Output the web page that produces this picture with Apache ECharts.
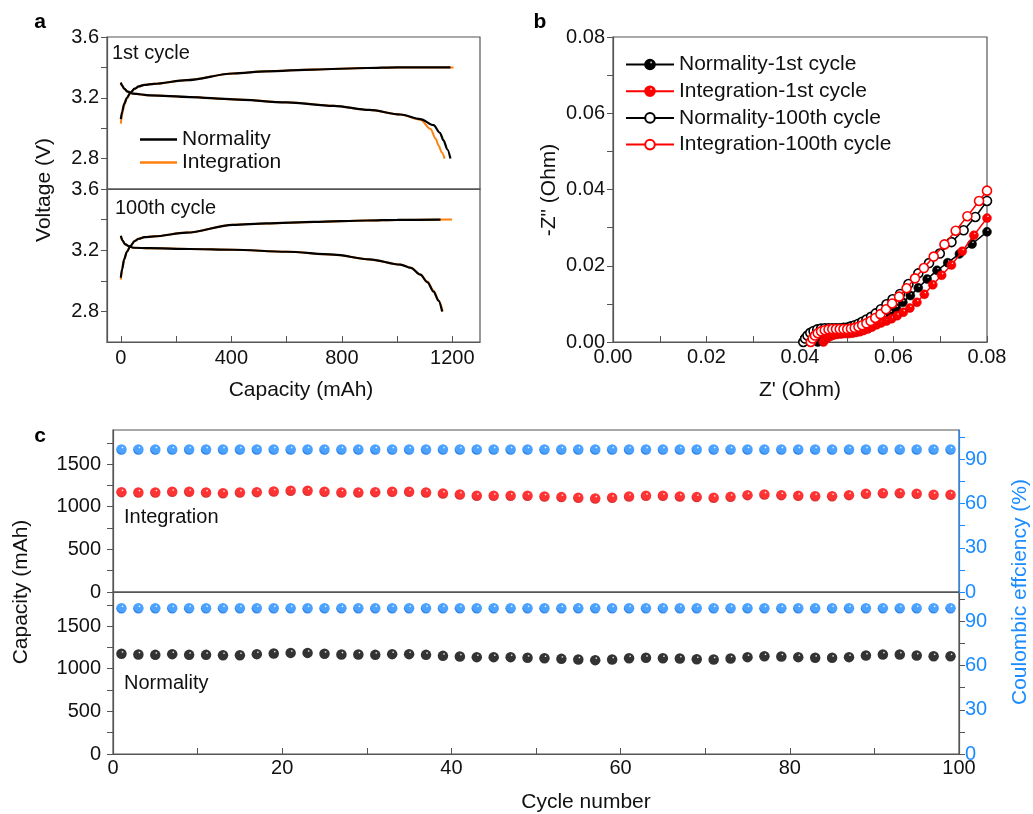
<!DOCTYPE html>
<html><head><meta charset="utf-8">
<script src="https://cdn.jsdelivr.net/npm/echarts@6/dist/echarts.min.js"></script>
<style>html,body{margin:0;padding:0;background:#fff}#c{width:1033px;height:814px}</style>
</head><body><div id="c"></div>
<script>
// ---------- Panel a: voltage profiles [capacity mAh, voltage V] ----------
const cyc1NormCharge = [[0,3.06],[5,3.11],[12,3.16],[22,3.20],[35,3.235],[50,3.26],[65,3.275],[85,3.285],[120,3.292],[238,3.316],[406,3.36],[527,3.374],[700,3.386],[891,3.396],[1000,3.40],[1100,3.40],[1193,3.40]];
const cyc1IntCharge  = [[0,3.03],[5,3.09],[12,3.15],[22,3.195],[35,3.232],[50,3.258],[65,3.275],[85,3.285],[120,3.292],[238,3.316],[406,3.36],[527,3.374],[700,3.387],[891,3.396],[1000,3.40],[1100,3.40],[1204,3.40]];
const cyc1NormDis    = [[0,3.30],[5,3.28],[12,3.26],[25,3.24],[45,3.227],[105,3.216],[250,3.205],[406,3.19],[600,3.17],[770,3.147],[900,3.12],[1012,3.09],[1084,3.06],[1132,3.02],[1155,2.97],[1168,2.92],[1182,2.86],[1193,2.80]];
const cyc1IntDis     = [[0,3.30],[5,3.28],[12,3.26],[25,3.24],[45,3.227],[105,3.216],[250,3.205],[406,3.19],[600,3.17],[770,3.147],[900,3.12],[1012,3.09],[1084,3.055],[1121,2.995],[1140,2.93],[1150,2.886],[1162,2.84],[1172,2.80]];
const cyc100NormCharge = [[0,3.02],[5,3.08],[12,3.14],[22,3.19],[35,3.228],[50,3.26],[65,3.275],[85,3.285],[120,3.29],[238,3.315],[406,3.366],[527,3.375],[700,3.385],[891,3.394],[1000,3.398],[1157,3.40]];
const cyc100IntCharge  = [[0,3.008],[5,3.075],[12,3.137],[22,3.19],[35,3.228],[50,3.26],[65,3.275],[85,3.285],[120,3.29],[238,3.315],[406,3.366],[527,3.375],[700,3.385],[891,3.394],[1000,3.398],[1199,3.40]];
const cyc100NormDis    = [[0,3.294],[6,3.265],[15,3.24],[30,3.225],[45,3.216],[105,3.213],[250,3.208],[406,3.203],[600,3.19],[770,3.171],[900,3.14],[1012,3.106],[1050,3.085],[1084,3.04],[1110,2.99],[1132,2.93],[1150,2.87],[1163,2.80]];
const cyc100IntDis     = [[0,3.29],[6,3.262],[15,3.238],[30,3.224],[45,3.216],[105,3.213],[250,3.208],[406,3.203],[600,3.19],[770,3.171],[900,3.14],[1012,3.106],[1050,3.085],[1084,3.042],[1110,2.995],[1132,2.935],[1151,2.87],[1165,2.80]];
const voltLabels = [2.8, 3.2, 3.6];
const capLabels = [0, 400, 800, 1200];

// ---------- Panel b: Nyquist plots [Z', -Z''] ----------
const eisNorm1 = [[0.0438,0.0000],[0.0442,0.0007],[0.0447,0.0013],[0.0453,0.0018],[0.0460,0.0021],[0.0468,0.0023],[0.0476,0.0024],[0.0484,0.0025],[0.0492,0.0025],[0.0500,0.0025],[0.0508,0.0026],[0.0516,0.0028],[0.0524,0.0030],[0.0532,0.0033],[0.0541,0.0037],[0.0550,0.0042],[0.0560,0.0048],[0.0570,0.0056],[0.0581,0.0065],[0.0593,0.0076],[0.0606,0.0089],[0.0620,0.0104],[0.0636,0.0122],[0.0653,0.0142],[0.0672,0.0165],[0.0693,0.0188],[0.0716,0.0208],[0.0741,0.0231],[0.0768,0.0257],[0.0800,0.0289]];
const eisInt1 = [[0.0450,0.0000],[0.0454,0.0006],[0.0459,0.0011],[0.0465,0.0015],[0.0472,0.0018],[0.0480,0.0020],[0.0488,0.0021],[0.0496,0.0022],[0.0504,0.0022],[0.0512,0.0023],[0.0520,0.0025],[0.0528,0.0027],[0.0536,0.0030],[0.0545,0.0034],[0.0554,0.0039],[0.0564,0.0045],[0.0574,0.0050],[0.0585,0.0055],[0.0596,0.0061],[0.0608,0.0069],[0.0621,0.0078],[0.0635,0.0089],[0.0650,0.0104],[0.0666,0.0125],[0.0684,0.0150],[0.0703,0.0175],[0.0724,0.0202],[0.0747,0.0238],[0.0772,0.0280],[0.0800,0.0325]];
const eisNorm100 = [[0.0407,0.0000],[0.0411,0.0009],[0.0416,0.0017],[0.0422,0.0024],[0.0429,0.0029],[0.0437,0.0033],[0.0445,0.0035],[0.0453,0.0036],[0.0461,0.0036],[0.0469,0.0036],[0.0477,0.0036],[0.0485,0.0036],[0.0493,0.0037],[0.0501,0.0038],[0.0509,0.0041],[0.0517,0.0044],[0.0525,0.0048],[0.0533,0.0053],[0.0542,0.0059],[0.0552,0.0066],[0.0562,0.0075],[0.0573,0.0086],[0.0585,0.0099],[0.0598,0.0112],[0.0614,0.0126],[0.0632,0.0152],[0.0653,0.0180],[0.0676,0.0207],[0.0699,0.0232],[0.0724,0.0262],[0.0750,0.0293],[0.0775,0.0328],[0.0800,0.0370]];
const eisInt100 = [[0.0423,0.0000],[0.0427,0.0009],[0.0432,0.0017],[0.0438,0.0023],[0.0445,0.0028],[0.0453,0.0031],[0.0461,0.0033],[0.0469,0.0034],[0.0477,0.0034],[0.0485,0.0034],[0.0493,0.0034],[0.0501,0.0034],[0.0509,0.0035],[0.0517,0.0037],[0.0525,0.0040],[0.0533,0.0044],[0.0542,0.0049],[0.0551,0.0055],[0.0561,0.0063],[0.0572,0.0073],[0.0584,0.0086],[0.0597,0.0101],[0.0612,0.0119],[0.0628,0.0141],[0.0646,0.0167],[0.0665,0.0194],[0.0686,0.0224],[0.0709,0.0256],[0.0733,0.0292],[0.0758,0.0330],[0.0783,0.0370],[0.0800,0.0397]];

// ---------- Panel c: cycling ----------
const cycles = [1,3,5,7,9,11,13,15,17,19,21,23,25,27,29,31,33,35,37,39,41,43,45,47,49,51,53,55,57,59,61,63,65,67,69,71,73,75,77,79,81,83,85,87,89,91,93,95,97,99];
const capIntegration = [1171,1167,1167,1175,1175,1167,1159,1167,1171,1179,1187,1187,1175,1167,1167,1171,1175,1175,1167,1155,1144,1128,1128,1128,1128,1120,1113,1105,1097,1105,1120,1128,1128,1120,1113,1105,1116,1136,1144,1136,1128,1124,1124,1136,1152,1159,1159,1152,1140,1140];
const capNormality = [1175,1167,1163,1171,1163,1163,1159,1159,1171,1179,1186,1186,1175,1167,1167,1163,1171,1171,1163,1151,1144,1136,1136,1136,1128,1124,1116,1109,1101,1109,1124,1128,1124,1120,1112,1109,1120,1136,1147,1144,1136,1128,1128,1136,1155,1167,1167,1155,1147,1147];
const ceIntegration = [96.8,96.8,96.8,96.8,96.8,96.8,96.8,96.8,96.8,96.8,96.8,96.8,96.8,96.8,96.8,96.8,96.8,96.8,96.8,96.8,96.8,96.8,96.8,96.8,96.8,96.8,96.8,96.8,96.8,96.8,96.8,96.8,96.8,96.8,96.8,96.8,96.8,96.8,96.8,96.8,96.8,96.8,96.8,96.8,96.8,96.8,96.8,96.8,96.8,96.8];
const ceNormality = [99.0,99.0,99.0,99.0,99.0,99.0,99.0,99.0,99.0,99.0,99.0,99.0,99.0,99.0,99.0,99.0,99.0,99.0,99.0,99.0,99.0,99.0,99.0,99.0,99.0,99.0,99.0,99.0,99.0,99.0,99.0,99.0,99.0,99.0,99.0,99.0,99.0,99.0,99.0,99.0,99.0,99.0,99.0,99.0,99.0,99.0,99.0,99.0,99.0,99.0];
const capTickLabels = [0, 500, 1000, 1500];
const ceTickLabels = [0, 30, 60, 90];

// ---------- styling ----------
const FONT = 'Liberation Sans, Arial, sans-serif';
const AX = '#555';
const TXT = '#111';
const BLUE = '#1a8cff';
const ORANGE = '#ff7f0e';
function ball(c, dark){
  return {type:'radial', x:0.6, y:0.32, r:0.62, colorStops:[{offset:0,color:'rgba(255,255,255,0.95)'},{offset:0.2,color:c},{offset:0.8,color:c},{offset:1,color:dark}]};
}
function pairs(xs, ys){ return xs.map((x,i)=>[x, ys[i]]); }
const plain = v => String(v);
function yAx(grid, min, max, labels, ticks, opt){
  return Object.assign({type:'value', gridIndex:grid, min:min, max:max,
    axisLine:{show:true, onZero:false, lineStyle:{color:AX, width:1.2}},
    axisTick:{show:true, inside:false, length:6, customValues:ticks, lineStyle:{color:AX}},
    axisLabel:{show:true, customValues:labels, color:TXT, fontSize:20, fontFamily:FONT, margin:8, formatter:plain},
    splitLine:{show:false}}, opt||{});
}
function xAx(grid, min, max, labels, ticks, opt){
  return Object.assign({type:'value', gridIndex:grid, min:min, max:max,
    axisLine:{show:true, onZero:false, lineStyle:{color:AX, width:1.2}},
    axisTick:{show:true, inside:true, length:6, customValues:ticks, lineStyle:{color:AX}},
    axisLabel:{show:true, customValues:labels, color:TXT, fontSize:20, fontFamily:FONT, margin:6, formatter:plain},
    splitLine:{show:false}}, opt||{});
}
const gridBase = {show:true, borderColor:AX, borderWidth:1.2, backgroundColor:'transparent', containLabel:false};

const chart = echarts.init(document.getElementById('c'), null, {renderer:'canvas'});
const lineA = (name, data, color, w, xi, yi, z) => ({type:'line', name:name, data:data, xAxisIndex:xi, yAxisIndex:yi,
  symbol:'none', smooth:0.3, smoothMonotone:'x', lineStyle:{color:color, width:w}, itemStyle:{color:color}, z:z, animation:false});
const lineB = (name, data, color, open, z) => ({type:'line', name:name, data:data, xAxisIndex:2, yAxisIndex:2,
  symbol:'circle', symbolSize:9, showSymbol:true, lineStyle:{color:color, width:1.5},
  itemStyle: open ? {color:'#ffffff', borderColor:color, borderWidth:1.6} : {color: color==='#000' ? ball('#000','#000') : ball('#ff0000','#d00000'), borderColor:color, borderWidth:0.5},
  z:z, animation:false});
const scat = (data, fill, xi, yi) => ({type:'scatter', data:data, xAxisIndex:xi, yAxisIndex:yi, symbolSize:10.5,
  itemStyle:{color:fill}, animation:false});

const labelStyle = (fmt, margin, color) => ({show:true, color:color||TXT, fontSize:20, fontFamily:FONT, margin:margin, formatter:fmt});

const option = {
  backgroundColor:'#ffffff',
  animation:false,
  textStyle:{fontFamily:FONT},
  grid:[
    Object.assign({left:107, top:37, width:373, height:152}, gridBase),
    Object.assign({left:107, top:189, width:373, height:153}, gridBase),
    Object.assign({left:613, top:37, width:374, height:305}, gridBase),
    Object.assign({left:113, top:430, width:846, height:162}, gridBase),
    Object.assign({left:113, top:592, width:846, height:162}, gridBase)
  ],
  xAxis:[
    xAx(0, -50, 1300, [], [], {axisLabel:{show:false}, axisTick:{show:false}}),
    xAx(1, -50, 1300, capLabels, [0,200,400,600,800,1000,1200]),
    xAx(2, 0, 0.08, [], [0,0.01,0.02,0.03,0.04,0.05,0.06,0.07,0.08],
        {axisLabel:Object.assign(labelStyle(v=>v.toFixed(2),5), {customValues:[0,0.02,0.04,0.06,0.08]})}),
    xAx(3, 0, 100, [], [], {axisLabel:{show:false}, axisTick:{show:false}}),
    xAx(4, 0, 100, [], [0,10,20,30,40,50,60,70,80,90,100], {axisLabel:Object.assign(labelStyle(plain,4), {customValues:[0,20,40,60,80,100]})})
  ],
  yAxis:[
    yAx(0, 2.6, 3.6, [], [2.8,3.0,3.2,3.4,3.6], {axisLabel:Object.assign(labelStyle(v=>v.toFixed(1),8), {customValues:voltLabels})}),
    yAx(1, 2.6, 3.6, [], [2.8,3.0,3.2,3.4,3.6], {axisLabel:Object.assign(labelStyle(v=>v.toFixed(1),8), {customValues:voltLabels})}),
    yAx(2, 0, 0.08, [], [0,0.01,0.02,0.03,0.04,0.05,0.06,0.07,0.08], {axisLabel:Object.assign(labelStyle(v=>v.toFixed(2),8), {customValues:[0,0.02,0.04,0.06,0.08]})}),
    yAx(3, 0, 1900, [], [0,250,500,750,1000,1250,1500,1750], {axisLabel:Object.assign(labelStyle(plain,12), {customValues:capTickLabels})}),
    yAx(3, 0, 110, [], [], {position:'right', axisLine:{show:true, onZero:false, lineStyle:{color:BLUE, width:1.2}},
      axisTick:{show:true, inside:false, length:6, customValues:[0,15,30,45,60,75,90,105], lineStyle:{color:BLUE}},
      axisLabel:Object.assign(labelStyle(plain,6,BLUE), {customValues:ceTickLabels})}),
    yAx(4, 0, 1900, [], [0,250,500,750,1000,1250,1500,1750], {axisLabel:Object.assign(labelStyle(plain,12), {customValues:capTickLabels})}),
    yAx(4, 0, 110, [], [], {position:'right',
      axisTick:{show:true, inside:false, length:6, customValues:[0,15,30,45,60,75,90,105], lineStyle:{color:AX}},
      axisLabel:Object.assign(labelStyle(plain,6,BLUE), {customValues:ceTickLabels})})
  ],
  legend:[
    {data:[{name:'Normality', icon:'rect'},{name:'Integration', icon:'rect'}], orient:'vertical', left:135, top:124, itemWidth:37, itemHeight:2.5, itemGap:2,
     textStyle:{fontSize:21, color:TXT, fontFamily:FONT}, selectedMode:false},
    {data:['Normality-1st cycle','Integration-1st cycle','Normality-100th cycle','Integration-100th cycle'], orient:'vertical', left:620, top:49,
     itemWidth:48, itemHeight:12, itemGap:5.7, textStyle:{fontSize:21, color:TXT, fontFamily:FONT}, selectedMode:false}
  ],
  series:[
    lineA('Integration', cyc1IntCharge, ORANGE, 2, 0, 0, 2),
    lineA('Integration', cyc1IntDis, ORANGE, 2, 0, 0, 2),
    lineA('Normality', cyc1NormCharge, '#000', 2.2, 0, 0, 3),
    lineA('Normality', cyc1NormDis, '#000', 2.2, 0, 0, 3),
    lineA('Integration', cyc100IntCharge, ORANGE, 2, 1, 1, 2),
    lineA('Integration', cyc100IntDis, ORANGE, 2, 1, 1, 2),
    lineA('Normality', cyc100NormCharge, '#000', 2.2, 1, 1, 3),
    lineA('Normality', cyc100NormDis, '#000', 2.2, 1, 1, 3),
    lineB('Normality-1st cycle', eisNorm1, '#000', false, 2),
    lineB('Integration-1st cycle', eisInt1, '#ff0000', false, 3),
    lineB('Normality-100th cycle', eisNorm100, '#000', true, 4),
    lineB('Integration-100th cycle', eisInt100, '#ff0000', true, 5),
    scat(pairs(cycles, capIntegration), ball('#ff0000','#cc0000'), 3, 3),
    scat(pairs(cycles, ceIntegration), ball('#1e8cff','#0066dd'), 3, 4),
    scat(pairs(cycles, capNormality), ball('#000000','#000000'), 4, 5),
    scat(pairs(cycles, ceNormality), ball('#1e8cff','#0066dd'), 4, 6)
  ],
  graphic:[
    {type:'text', x:40, y:22, style:{text:'a', font:'bold 21px '+FONT, fill:'#000', align:'center', verticalAlign:'middle'}},
    {type:'text', x:540, y:22, style:{text:'b', font:'bold 21px '+FONT, fill:'#000', align:'center', verticalAlign:'middle'}},
    {type:'text', x:40, y:436, style:{text:'c', font:'bold 21px '+FONT, fill:'#000', align:'center', verticalAlign:'middle'}},
    {type:'text', x:112, y:53, style:{text:'1st cycle', font:'20px '+FONT, fill:TXT, align:'left', verticalAlign:'middle'}},
    {type:'text', x:115, y:208, style:{text:'100th cycle', font:'20px '+FONT, fill:TXT, align:'left', verticalAlign:'middle'}},
    {type:'text', x:44, y:190, rotation:Math.PI/2, style:{text:'Voltage (V)', font:'21px '+FONT, fill:TXT, align:'center', verticalAlign:'middle'}},
    {type:'text', x:301, y:390, style:{text:'Capacity (mAh)', font:'21px '+FONT, fill:TXT, align:'center', verticalAlign:'middle'}},
    {type:'text', x:549, y:190, rotation:Math.PI/2, style:{text:'-Z" (Ohm)', font:'21px '+FONT, fill:TXT, align:'center', verticalAlign:'middle'}},
    {type:'text', x:800, y:390, style:{text:"Z' (Ohm)", font:'21px '+FONT, fill:TXT, align:'center', verticalAlign:'middle'}},
    {type:'text', x:124, y:517, style:{text:'Integration', font:'20px '+FONT, fill:TXT, align:'left', verticalAlign:'middle'}},
    {type:'text', x:124, y:683, style:{text:'Normality', font:'20px '+FONT, fill:TXT, align:'left', verticalAlign:'middle'}},
    {type:'text', x:21, y:592, rotation:Math.PI/2, style:{text:'Capacity (mAh)', font:'21px '+FONT, fill:TXT, align:'center', verticalAlign:'middle'}},
    {type:'text', x:1020, y:592, rotation:Math.PI/2, style:{text:'Coulombic effciency (%)', font:'21px '+FONT, fill:BLUE, align:'center', verticalAlign:'middle'}},
    {type:'text', x:586, y:802, style:{text:'Cycle number', font:'21px '+FONT, fill:TXT, align:'center', verticalAlign:'middle'}}
  ]
};
chart.setOption(option);
</script>
</body></html>
